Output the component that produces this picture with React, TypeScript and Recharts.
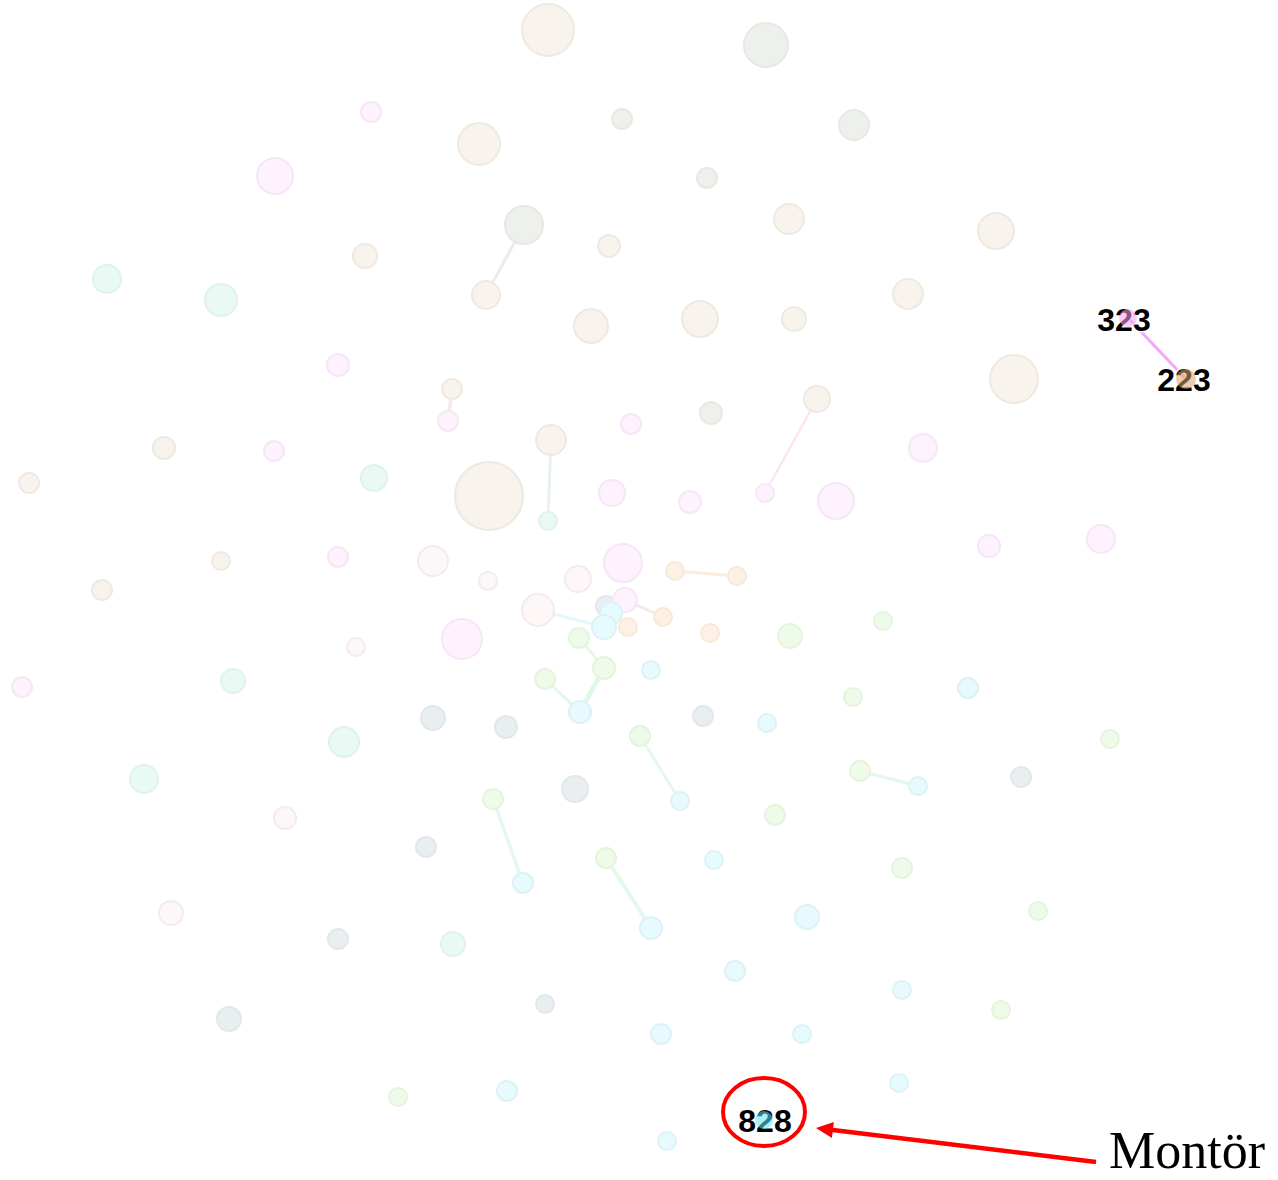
import React from 'react';
import { ScatterChart, Scatter, XAxis, YAxis } from 'recharts';

const W = 1278;
const H = 1180;

// node groups: [x, y, radius]
const tanNodes = [[548,30,27],[479,144,22],[789,219,16],[609,246,12],[996,231,19],[365,256,13],[486,295,15],[908,294,16],[591,326,18],[700,319,19],[794,319,13],[1014,379,25],[452,389,11],[817,399,14],[551,440,16],[164,448,12],[29,483,11],[489,496,35],[221,561,10],[102,590,11]];
const grayNodes = [[766,45,23],[622,119,11],[854,125,16],[707,178,11],[524,225,20],[711,413,12]];
const slateNodes = [[606,606,11],[433,718,13],[506,727,12],[703,716,11],[575,789,14],[1021,777,11],[426,847,11],[338,939,11],[545,1004,10],[229,1019,13]];
const pinkNodes = [[371,112,11],[275,176,19],[338,365,12],[448,421,11],[631,424,11],[274,451,11],[923,448,15],[612,493,14],[690,502,12],[836,501,19],[765,493,10],[1101,539,15],[989,546,12],[338,557,11],[623,563,20],[625,600,13],[462,639,21],[22,687,11]];
const mintNodes = [[107,279,15],[221,300,17],[374,478,14],[548,521,10],[233,681,13],[344,742,16],[144,779,15],[453,944,13]];
const roseNodes = [[433,561,16],[488,581,10],[578,579,14],[538,610,17],[356,647,10],[285,818,12],[171,913,13]];
const orangeNodes = [[675,571,10],[737,576,10],[663,617,10],[710,633,10],[628,627,10]];
const greenNodes = [[790,636,13],[883,621,10],[579,638,11],[604,668,12],[545,679,11],[853,697,10],[640,736,11],[1110,739,10],[860,771,11],[493,799,11],[775,815,11],[606,858,11],[902,868,11],[1038,911,10],[1001,1010,10],[398,1097,10]];
const cyanNodes = [[611,613,12],[604,627,13],[651,670,10],[580,712,12],[968,688,11],[767,723,10],[680,801,10],[918,786,10],[523,883,11],[651,928,12],[714,860,10],[807,917,13],[735,971,11],[902,990,10],[661,1034,11],[802,1034,10],[507,1091,11],[899,1083,10],[667,1141,10]];

// edges: [x1, y1, x2, y2, colour, width]
const edges: [number, number, number, number, string, number][] = [
  [524,225,486,295,'#eeece4',3],
  [551,440,548,521,'#e6f4ec',3],
  [452,389,448,421,'#fae8f0',4],
  [817,399,765,493,'#fbe6ec',2.5],
  [675,571,737,576,'#fdecdb',3],
  [538,610,604,627,'#e4f7fb',3],
  [625,600,663,617,'#f1ebe6',3],
  [579,638,604,668,'#e8f8e4',3],
  [604,668,580,712,'#e2f7ec',5],
  [545,679,580,712,'#e4f6ec',3],
  [640,736,680,801,'#e4f8ed',3],
  [860,771,918,786,'#e4f7ec',3],
  [493,799,523,883,'#e4f8ed',3.5],
  [606,858,651,928,'#e4f8ed',4],
];

const highlightEdges: [number, number, number, number, string, number][] = [
  [1128,318,1186,379,'#f6a6f6',3],
];

const highlightNodes = [
  { x: 1128, y: 318, r: 9, fill: '#f4a0f2' },
  { x: 1186, y: 379, r: 10, fill: '#d9a26c' },
  { x: 764, y: 1120, r: 9, fill: '#5fe2f4' },
];

const labels = [
  { x: 1124, y: 319, text: '323' },
  { x: 1184, y: 379, text: '223' },
  { x: 765, y: 1120, text: '828' },
];

const ellipseMark = [{ x: 764, y: 1112, rx: 41, ry: 34 }];
const arrowMark = [{ x: 1096, y: 1162, tipX: 816, tipY: 1128 }];
const captionMark = [{ x: 1109, y: 1168, text: 'Montör' }];

const groups = [
  { name: 'tan', data: tanNodes, fill: '#f8f3ed', stroke: '#efe9e2' },
  { name: 'gray', data: grayNodes, fill: '#eef0ec', stroke: '#e7e9e5' },
  { name: 'slate', data: slateNodes, fill: '#e9eff1', stroke: '#e2e8ea' },
  { name: 'pink', data: pinkNodes, fill: '#fdf2fd', stroke: '#f6e6f6' },
  { name: 'mint', data: mintNodes, fill: '#e9faf4', stroke: '#e0f2eb' },
  { name: 'rose', data: roseNodes, fill: '#fdf7f7', stroke: '#f4ecec' },
  { name: 'orange', data: orangeNodes, fill: '#fdf1e4', stroke: '#f6e8da' },
  { name: 'green', data: greenNodes, fill: '#eefbe8', stroke: '#e5f4de' },
  { name: 'cyan', data: cyanNodes, fill: '#e7fafe', stroke: '#ddf2f6' },
];

const Empty = () => <g />;

const makeNodeShape = (fill: string, stroke: string) => (props: any) => {
  const { cx, cy, payload } = props;
  if (cx == null || cy == null) return <g />;
  return <circle cx={cx} cy={cy} r={payload.r - 1} fill={fill} stroke={stroke} strokeWidth={2} />;
};

const HighlightShape = (props: any) => {
  const { cx, cy, payload } = props;
  return <circle cx={cx} cy={cy} r={payload.r} fill={payload.fill} opacity={0.55} />;
};

const LabelShape = (props: any) => {
  const { cx, cy, payload } = props;
  return (
    <text
      x={cx}
      y={cy}
      dy="0.36em"
      textAnchor="middle"
      fontFamily="'Liberation Sans', Arial, sans-serif"
      fontWeight="bold"
      fontSize={32}
      fill="#000"
      stroke="rgba(255,255,255,0.9)"
      strokeWidth={3}
      style={{ paintOrder: 'stroke' } as any}
    >
      {payload.text}
    </text>
  );
};

const EllipseShape = (props: any) => {
  const { cx, cy, payload } = props;
  return <ellipse cx={cx} cy={cy} rx={payload.rx} ry={payload.ry} fill="none" stroke="#ff0000" strokeWidth={4} />;
};

const ArrowShape = (props: any) => {
  const { cx, cy, payload } = props;
  // axes are 1:1 with pixels (domain equals plot size)
  const tx = cx + (payload.tipX - payload.x);
  const ty = cy + (payload.tipY - payload.y);
  const dx = tx - cx;
  const dy = ty - cy;
  const len = Math.sqrt(dx * dx + dy * dy);
  const ux = dx / len;
  const uy = dy / len;
  const headLen = 17;
  const headW = 8;
  const bx = tx - ux * headLen;
  const by = ty - uy * headLen;
  const px = -uy;
  const py = ux;
  return (
    <g>
      <line x1={cx} y1={cy} x2={bx + ux * 2} y2={by + uy * 2} stroke="#ff0000" strokeWidth={4.5} />
      <polygon
        points={`${tx},${ty} ${bx + px * headW},${by + py * headW} ${bx - px * headW},${by - py * headW}`}
        fill="#ff0000"
      />
    </g>
  );
};

const CaptionShape = (props: any) => {
  const { cx, cy, payload } = props;
  return (
    <text x={cx} y={cy} fontFamily="'Liberation Serif', 'Times New Roman', serif" fontSize={52} fill="#000">
      {payload.text}
    </text>
  );
};

export default function App() {
  return (
    <div style={{ position: 'absolute', left: 0, top: 0, width: W, height: H, background: '#fff' }}>
      <ScatterChart width={W} height={H} margin={{ top: 0, right: 0, bottom: 0, left: 0 }}>
        <XAxis type="number" dataKey="x" domain={[0, W]} hide allowDataOverflow />
        <YAxis type="number" dataKey="y" domain={[0, H]} reversed hide allowDataOverflow />
        {edges.map((e, i) => (
          <Scatter
            key={'e' + i}
            data={[{ x: e[0], y: e[1] }, { x: e[2], y: e[3] }]}
            line={{ stroke: e[4], strokeWidth: e[5] }}
            stroke={e[4]}
            shape={Empty}
            isAnimationActive={false}
          />
        ))}
        {groups.map((g) => (
          <Scatter
            key={g.name}
            name={g.name}
            data={g.data.map((d) => ({ x: d[0], y: d[1], r: d[2] }))}
            shape={makeNodeShape(g.fill, g.stroke)}
            isAnimationActive={false}
          />
        ))}
        {highlightEdges.map((e, i) => (
          <Scatter
            key={'h' + i}
            data={[{ x: e[0], y: e[1] }, { x: e[2], y: e[3] }]}
            line={{ stroke: e[4], strokeWidth: e[5] }}
            stroke={e[4]}
            shape={Empty}
            isAnimationActive={false}
          />
        ))}
        <Scatter data={labels} shape={LabelShape} isAnimationActive={false} />
        <Scatter data={highlightNodes} shape={HighlightShape} isAnimationActive={false} />
        <Scatter data={ellipseMark} shape={EllipseShape} isAnimationActive={false} />
        <Scatter data={arrowMark} shape={ArrowShape} isAnimationActive={false} />
        <Scatter data={captionMark} shape={CaptionShape} isAnimationActive={false} />
      </ScatterChart>
    </div>
  );
}
